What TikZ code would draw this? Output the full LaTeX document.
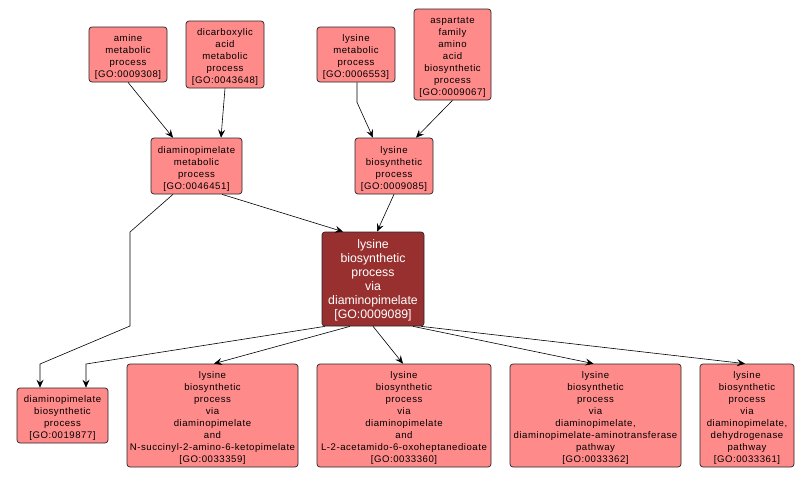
\documentclass[tikz,border=0pt]{standalone}
\usepackage{fontspec}
\setmainfont{Liberation Sans}
\usetikzlibrary{arrows.meta}
\definecolor{goPink}{RGB}{255,138,138}
\definecolor{goDark}{RGB}{153,48,48}
\newcommand\tstr{\rule{0pt}{12pt}}
\tikzset{
  term/.style={draw=black!85, line width=0.7pt, rounded corners=3pt, fill=goPink, align=center,
    inner sep=0pt, font=\fontsize{9.6}{12}\selectfont\addfontfeatures{LetterSpace=5.5}},
  focus/.style={draw=black!85, line width=0.7pt, rounded corners=3pt, fill=goDark, align=center,
    inner sep=0pt, text=white, font=\fontsize{12.3}{14}\selectfont},
  link/.style={draw=black, line width=0.6pt, -{Stealth[length=8pt,width=7pt,inset=3pt]}}
}
\begin{document}
\begin{tikzpicture}[x=1pt,y=-1pt]
\useasboundingbox (0,0) rectangle (811,477);
% top row
\node[term, minimum width=78, minimum height=55] (amine) at (128,54.5) {\tstr amine\\metabolic\\process\\{[}GO:0009308{]}};
\node[term, minimum width=78, minimum height=67] (dicarb) at (225,54.5) {\tstr dicarboxylic\\acid\\metabolic\\process\\{[}GO:0043648{]}};
\node[term, minimum width=78, minimum height=55] (lysmet) at (356,54.5) {\tstr lysine\\metabolic\\process\\{[}GO:0006553{]}};
\node[term, minimum width=77, minimum height=91] (asp) at (452.5,54.5) {\tstr aspartate\\family\\amino\\acid\\biosynthetic\\process\\{[}GO:0009067{]}};
% middle row
\node[term, minimum width=91, minimum height=56] (dapmet) at (196.5,166) {\tstr diaminopimelate\\metabolic\\process\\{[}GO:0046451{]}};
\node[term, minimum width=78, minimum height=56] (lysbio) at (394,166) {\tstr lysine\\biosynthetic\\process\\{[}GO:0009085{]}};
% focus
\node[focus, minimum width=102, minimum height=94] (main) at (373,279) {\rule{0pt}{11pt}lysine\\biosynthetic\\process\\via\\diaminopimelate\\{[}GO:0009089{]}};
% bottom row
\node[term, minimum width=91, minimum height=55] (dapbio) at (62.5,415.5) {\tstr diaminopimelate\\biosynthetic\\process\\{[}GO:0019877{]}};
\node[term, minimum width=171, minimum height=103] (nsucc) at (212.5,415.5) {\tstr lysine\\biosynthetic\\process\\via\\diaminopimelate\\and\\N-succinyl-2-amino-6-ketopimelate\\{[}GO:0033359{]}};
\node[term, minimum width=174, minimum height=103] (lacet) at (404,415.5) {\tstr lysine\\biosynthetic\\process\\via\\diaminopimelate\\and\\L-2-acetamido-6-oxoheptanedioate\\{[}GO:0033360{]}};
\node[term, minimum width=171, minimum height=103] (amtr) at (595.5,415.5) {\tstr lysine\\biosynthetic\\process\\via\\diaminopimelate,\\diaminopimelate-aminotransferase\\pathway\\{[}GO:0033362{]}};
\node[term, minimum width=94, minimum height=103] (dehyd) at (747,415.5) {\tstr lysine\\biosynthetic\\process\\via\\diaminopimelate,\\dehydrogenase\\pathway\\{[}GO:0033361{]}};
% connectors
\draw[link] (amine.south) -- ([xshift=-23.5]dapmet.north);
\draw[link] (dicarb.south) -- ([xshift=24.5]dapmet.north);
\draw[link] ([xshift=1]lysmet.south) -- ++(0,20) -- ([xshift=-21]lysbio.north);
\draw[link] (asp.south) -- ([xshift=22]lysbio.north);
\draw[link] ([xshift=25.5]dapmet.south) -- ([xshift=-30]main.north);
\draw[link] (lysbio.south) -- ([xshift=4]main.north);
\draw[link] ([xshift=-23.5]dapmet.south) -- (130,232) -- (130,326) -- (40,364) -- ([xshift=-22.5]dapbio.north);
\draw[link] ([xshift=-48]main.south) -- (86,364) -- ([xshift=23.5]dapbio.north);
\draw[link] ([xshift=-23]main.south) -- ([xshift=1.5]nsucc.north);
\draw[link] (main.south) -- ([xshift=-1]lacet.north);
\draw[link] ([xshift=40]main.south) -- ([xshift=-2]amtr.north);
\draw[link] ([xshift=48]main.south) -- ([xshift=-2]dehyd.north);
\end{tikzpicture}
\end{document}
